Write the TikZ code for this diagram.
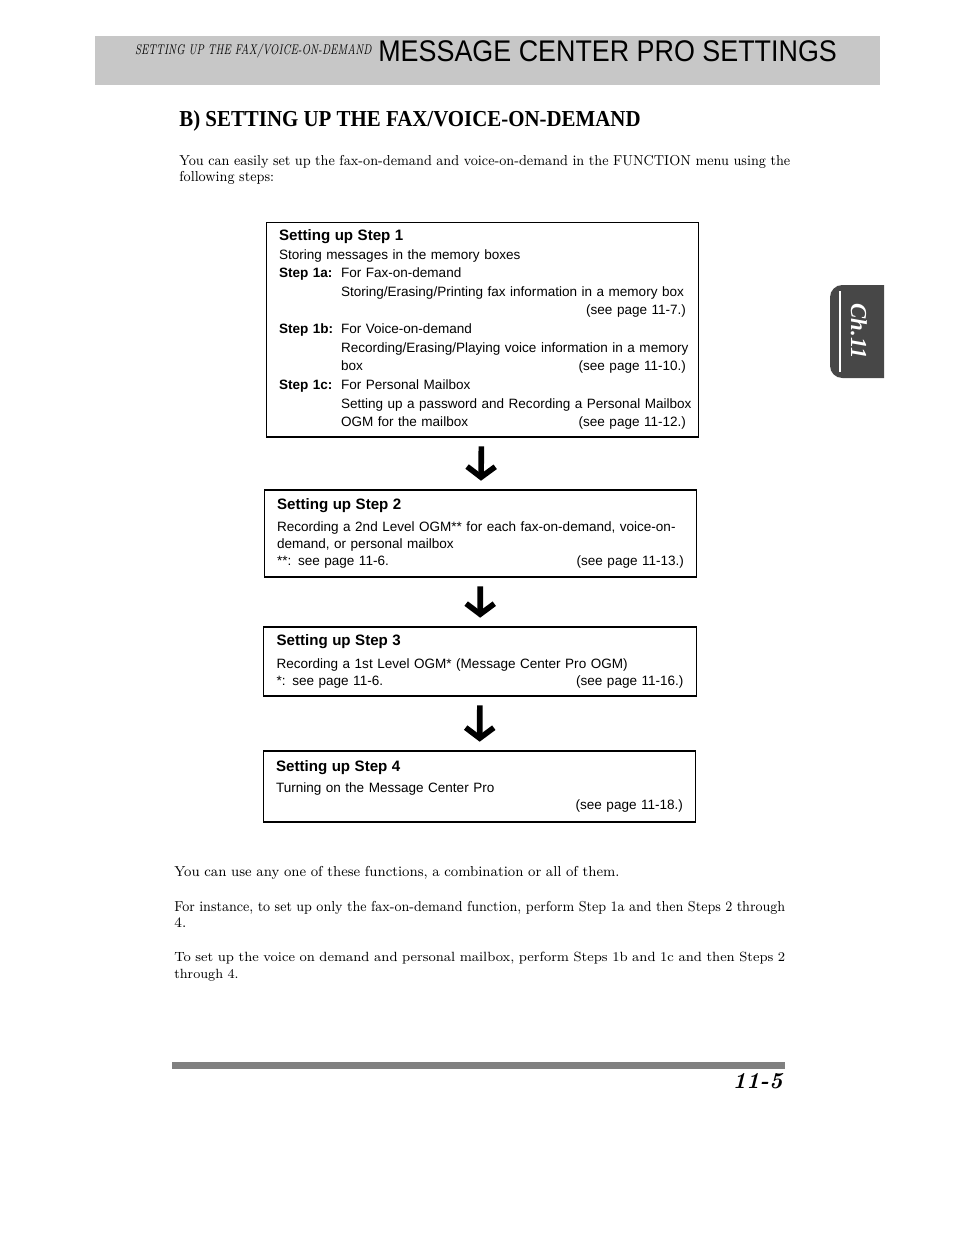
\documentclass[tikz,border=0pt]{standalone}
\usepackage{fontspec}
\usepackage{graphicx}
\newfontfamily\boxfont{Liberation Sans}
\newfontfamily\headfont{Liberation Serif}
\usetikzlibrary{arrows.meta}
\newlength\lblw
\setlength\lblw{1.24cm}
\newlength\parw
\setlength\parw{12.22cm}
\newcommand{\steptitle}[1]{{\bfseries\fontsize{8.6}{9.7}\selectfont #1}}
\newcommand{\steplab}[1]{\makebox[\lblw][l]{\bfseries #1}}
\newcommand{\subline}[1]{\hspace*{\lblw}\mbox{#1}}
\newcommand{\seepage}[1]{\hfill(see page #1)}
\newcommand{\fullline}[1]{\resizebox{\parw}{\height}{#1}}

\begin{document}
\begin{tikzpicture}[x=0.02cm, y=-0.02cm,
  stepbox/.style={draw, line width=0.6pt, text width=8.14cm, inner xsep=0.26cm, inner ysep=0pt, align=left, font=\boxfont\fontsize{7.7}{9.7}\selectfont},
  flow/.style={-{Straight Barb[length=6pt, width=16pt]}, line width=3.2pt, shorten <=5pt, shorten >=5pt},
  bodytext/.style={anchor=north west, inner sep=0pt, text width=12.22cm, align=left, font=\fontsize{8.2}{9.1}\selectfont},
  band/.style={fill=black!22},
  tabfill/.style={fill=black!72}]
\useasboundingbox (0,0) rectangle (954,1235);
\fill[band] (95,36) rectangle (880,85);
\node[anchor=base east, inner sep=0pt, font=\itshape\fontsize{8}{8}\selectfont] (hdrsub) at (372,54) {\scalebox{0.72}[1]{SETTING UP THE FAX/VOICE-ON-DEMAND}};
\node[anchor=base west, inner sep=0pt, font=\boxfont\fontsize{17}{17}\selectfont] (hdr) at (378,61) {\scalebox{0.9}[1]{MESSAGE CENTER PRO SETTINGS}};
\node[anchor=base west, inner sep=0pt, font=\headfont\bfseries\fontsize{13}{13}\selectfont] (title) at (179,126) {\scalebox{0.915}[1]{B) SETTING UP THE FAX/VOICE-ON-DEMAND}};
\node[bodytext] (intro) at (179,155) {\fullline{You can easily set up the fax-on-demand and voice-on-demand in the FUNCTION menu using the}\\
\scalebox{0.93}[1]{following steps:}};

\node[stepbox, minimum height=4.3cm, font=\boxfont\fontsize{7.7}{10.6}\selectfont] (s1) at (482.5,329.5) {\steptitle{Setting up Step 1}\\
Storing messages in the memory boxes\\
\steplab{Step 1a:}For Fax-on-demand\\
\subline{Storing/Erasing/Printing fax information in a memory box}\\
\mbox{}\seepage{11-7.}\\
\steplab{Step 1b:}For Voice-on-demand\\
\subline{Recording/Erasing/Playing voice information in a memory}\\
\subline{box}\seepage{11-10.}\\
\steplab{Step 1c:}For Personal Mailbox\\
\subline{Setting up a password and Recording a Personal Mailbox}\\
\subline{OGM for the mailbox}\seepage{11-12.}};
\node[stepbox, minimum height=1.74cm] (s2) at (480.5,533.5) {\steptitle{Setting up Step 2}\\[3pt]
\mbox{Recording a 2nd Level OGM** for each fax-on-demand, voice-on-}\\
demand, or personal mailbox\\
\mbox{**}: see page 11-6.\seepage{11-13.}};
\node[stepbox, minimum height=1.38cm] (s3) at (480,661.5) {\steptitle{Setting up Step 3}\\[3pt]
Recording a 1st Level OGM* (Message Center Pro OGM)\\
\mbox{*}: see page 11-6.\seepage{11-16.}};
\node[stepbox, minimum height=1.42cm] (s4) at (479.5,786.5) {\steptitle{Setting up Step 4}\\[2pt]
Turning on the Message Center Pro\\
\mbox{}\seepage{11-18.}};
\draw[flow] (s1) -- (s2);
\draw[flow] (s2) -- (s3);
\draw[flow] (s3) -- (s4);

\fill[tabfill] (884,378) -- (884,285) [rounded corners=7pt] -- (830,285) -- (830,378) [sharp corners] -- cycle;
\draw[white, line width=1pt] (840,291) -- (840,372);
\node[rotate=-90, text=white, font=\headfont\bfseries\itshape\fontsize{13}{13}\selectfont] (tab) at (859,331) {Ch.11};

\node[bodytext] (usage) at (174,866) {\scalebox{0.965}[1]{You can use any one of these functions, a combination or all of them.}};
\node[bodytext] (fax) at (174,901) {\fullline{For instance, to set up only the fax-on-demand function, perform Step 1a and then Steps 2 through}\\
4.};
\node[bodytext, font=\fontsize{7.6}{9.5}\selectfont] (voice) at (174,952) {\fullline{To set up the voice on demand and personal mailbox, perform Steps 1b and 1c and then Steps 2}\\
through 4.};

\fill[black!50] (172,1062) rectangle (785,1069);
\node[anchor=base east, inner sep=0pt, font=\bfseries\itshape\fontsize{13}{13}\selectfont] (pageno) at (783,1088) {11-5};
\end{tikzpicture}
\end{document}
